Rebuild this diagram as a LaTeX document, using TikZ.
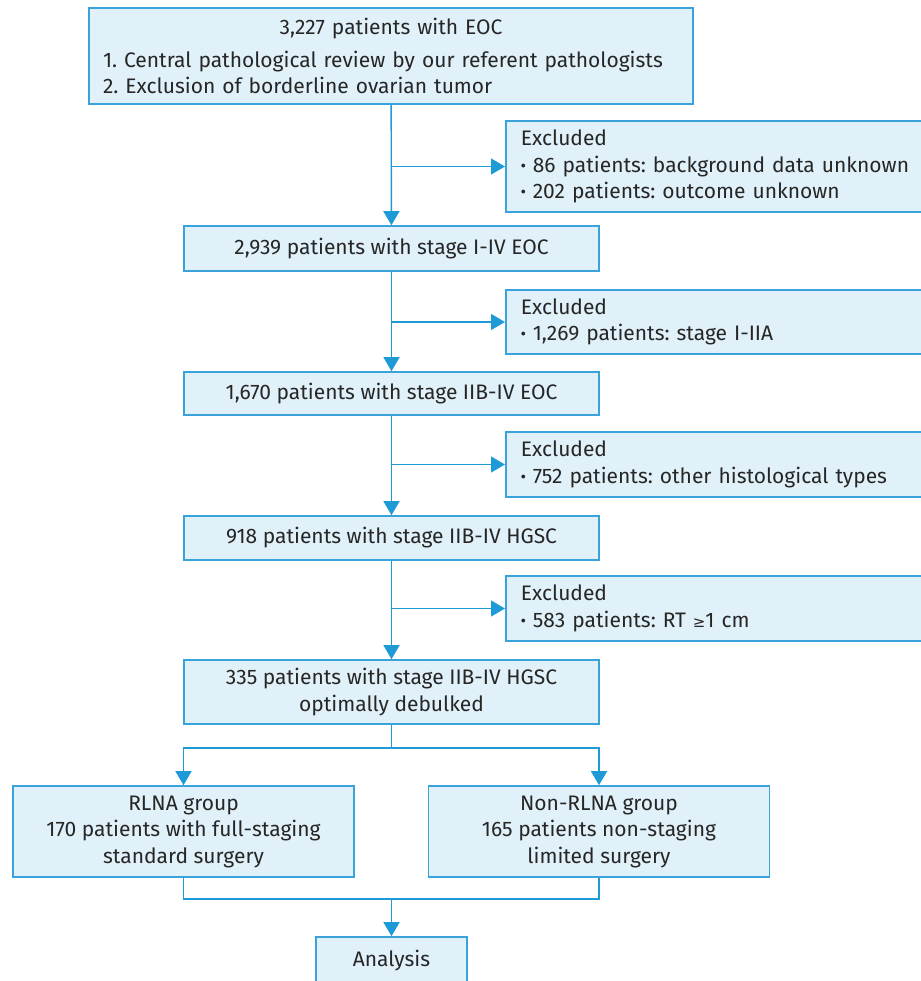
\documentclass[tikz,border=0pt]{standalone}
\usepackage{fontspec}
\setmainfont{Fira Sans}
\usetikzlibrary{arrows.meta,positioning,calc}
\definecolor{boxfill}{RGB}{225,241,249}
\definecolor{boxline}{RGB}{58,163,220}
\definecolor{flowblue}{RGB}{30,155,215}
\frenchspacing

\begin{document}
\begin{tikzpicture}[
    x=1pt, y=-1pt,
    font=\fontsize{21}{26.5}\selectfont,
    stagebox/.style={draw=boxline, fill=boxfill, line width=1.6pt, align=center,
      minimum width=415pt, inner sep=0pt, text=black!85},
    exclbox/.style={draw=boxline, fill=boxfill, line width=1.6pt, align=left, anchor=west,
      text width=400pt, inner xsep=15pt, inner ysep=0pt, text=black!85},
    groupbox/.style={draw=boxline, fill=boxfill, line width=1.6pt, align=center,
      minimum width=341pt, minimum height=91pt, inner sep=0pt, text=black!85},
    flow/.style={draw=flowblue, line width=1.4pt, -{Triangle[width=16pt,length=14pt]}},
    link/.style={draw=flowblue, line width=1.4pt}
  ]
    \useasboundingbox (0,0) rectangle (920,981);

    \node[stagebox, minimum width=604pt, minimum height=96pt, text width=576pt, align=left]
      (start) at (391,56)
      {\centering 3,227 patients with EOC\par\vspace{6pt}\raggedright
       1. Central pathological review by our referent pathologists\\
       2. Exclusion of borderline ovarian tumor};
    \node[stagebox, minimum height=45pt] (allstage) at (391.5,248.5)
      {2,939 patients with stage I-IV EOC};
    \node[stagebox, minimum height=43pt] (advanced) at (391.5,393.5)
      {1,670 patients with stage IIB-IV EOC};
    \node[stagebox, minimum height=44pt] (hgsc) at (391.5,538)
      {918 patients with stage IIB-IV HGSC};
    \node[stagebox, minimum height=64pt] (optimal) at (391.5,692)
      {335 patients with stage IIB-IV HGSC\\optimally debulked};

    \node[exclbox, minimum height=91pt] (excla) at (505,166.5)
      {Excluded\\{\bfseries ·} 86 patients: background data unknown\\{\bfseries ·} 202 patients: outcome unknown};
    \node[exclbox, minimum height=64pt] (exclb) at (505,322)
      {Excluded\\{\bfseries ·} 1,269 patients: stage I-IIA};
    \node[exclbox, minimum height=65pt] (exclc) at (505,464.5)
      {Excluded\\{\bfseries ·} 752 patients: other histological types};
    \node[exclbox, minimum height=65pt] (excld) at (505,608.5)
      {Excluded\\{\bfseries ·} 583 patients: RT {\fontspec{DejaVu Sans}\fontsize{15}{26.5}\selectfont ≥}1 cm};

    \node[groupbox] (rlna) at (183.5,831.5)
      {RLNA group\\170 patients with full-staging\\standard surgery};
    \node[groupbox] (nonrlna) at (599,831.5)
      {Non-RLNA group\\165 patients non-staging\\limited surgery};
    \node[stagebox, minimum width=151pt, minimum height=48pt] (analysis) at (391.5,961)
      {Analysis};

    \coordinate (split) at (391.5,748);
    \coordinate (merge) at (391.5,899);

    \draw[flow] (start) -- (allstage);
    \draw[flow] (allstage) -- (advanced);
    \draw[flow] (advanced) -- (hgsc);
    \draw[flow] (hgsc) -- (optimal);
    \draw[flow] (start.south |- excla.west) -- (excla.west);
    \draw[flow] (allstage.south |- exclb.west) -- (exclb.west);
    \draw[flow] (advanced.south |- exclc.west) -- (exclc.west);
    \draw[flow] (hgsc.south |- excld.west) -- (excld.west);

    \draw[link] (optimal.south) -- (split);
    \draw[flow] (split) -| (rlna.north);
    \draw[flow] (split) -| (nonrlna.north);
    \draw[link] (rlna.south) |- (merge) -| (nonrlna.south);
    \draw[flow] (merge) -- (analysis.north);
  \end{tikzpicture}
\end{document}
